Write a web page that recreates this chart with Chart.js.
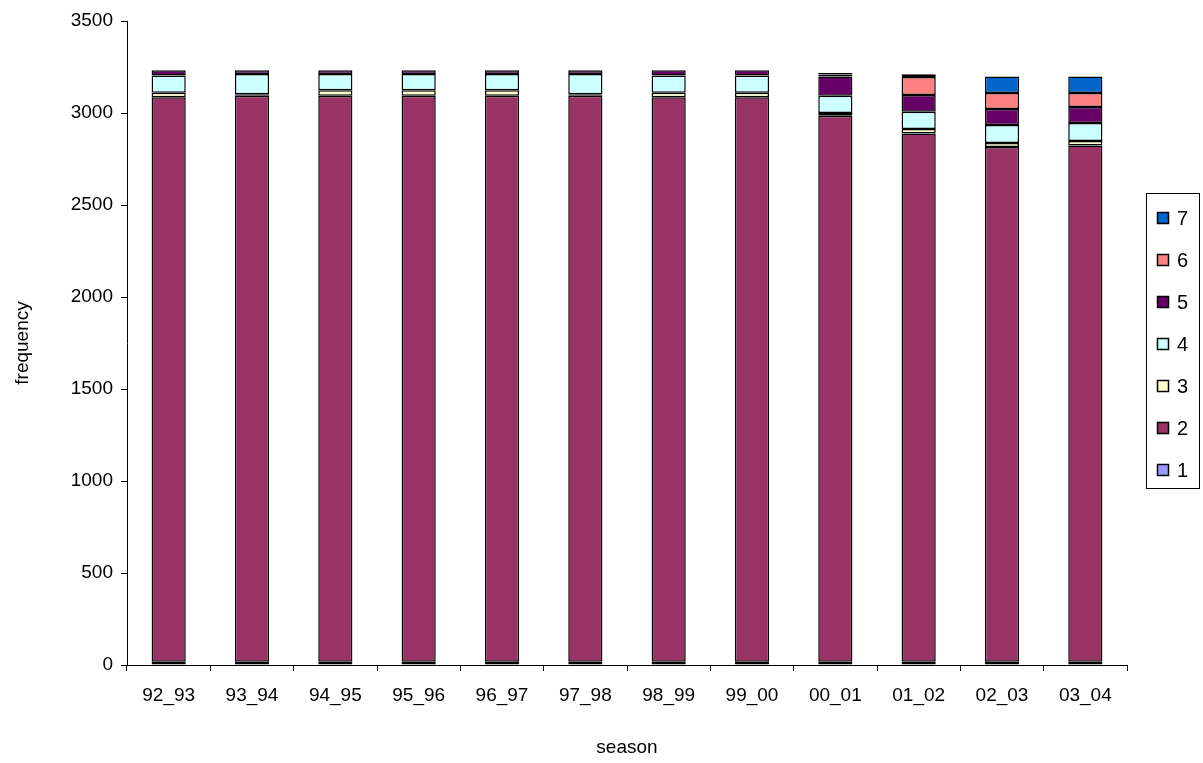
<!DOCTYPE html>
<html>
<head>
<meta charset="utf-8">
<script src="https://cdn.jsdelivr.net/npm/chart.js@4"></script>
<style>
  html, body { margin: 0; padding: 0; background: #fff; }
  canvas { display: block; }
</style>
</head>
<body>
<canvas id="chart" width="1203" height="763"></canvas>
<script>
const seasons = ['92_93', '93_94', '94_95', '95_96', '96_97', '97_98', '98_99', '99_00', '00_01', '01_02', '02_03', '03_04'];

const s1 = [18, 18, 18, 18, 18, 18, 18, 18, 18, 18, 18, 18];
const s2 = [3067, 3076, 3076, 3076, 3076, 3076, 3067, 3067, 2967, 2870, 2797, 2806];
const s3 = [25, 8, 30, 30, 30, 8, 25, 25, 15, 25, 22, 24];
const s4 = [94, 110, 88, 88, 88, 110, 94, 94, 94, 94, 98, 98];
const s5 = [28, 20, 20, 20, 20, 20, 28, 28, 105, 91, 87, 87];
const s6 = [0, 0, 0, 0, 0, 0, 0, 0, 10, 98, 87, 76];
const s7 = [0, 0, 0, 0, 0, 0, 0, 0, 8, 14, 90, 90];

const seriesNames = ['1', '2', '3', '4', '5', '6', '7'];
const seriesData = [s1, s2, s3, s4, s5, s6, s7];
const seriesColors = ['#9999FF', '#993366', '#FFFFCC', '#CCFFFF', '#660066', '#FF8080', '#0066CC'];

const yTicks = [0, 500, 1000, 1500, 2000, 2500, 3000, 3500];

const FONT = 'Arial, "Liberation Sans", sans-serif';

// legend with a frame, like the spreadsheet one
const boxLegend = {
  id: 'boxLegend',
  afterDraw(chart) {
    const ctx = chart.ctx;
    const x0 = 1146, y0 = 193, w = 53, h = 295;
    ctx.save();
    ctx.strokeStyle = '#000';
    ctx.lineWidth = 1;
    ctx.strokeRect(x0 + 0.5, y0 + 0.5, w, h);
    ctx.font = '20px ' + FONT;
    ctx.textBaseline = 'middle';
    const n = seriesNames.length;
    for (let i = 0; i < n; i++) {
      const k = n - 1 - i;
      const cy = 218 + i * 42;
      ctx.fillStyle = seriesColors[k];
      ctx.fillRect(1157, cy - 6, 12, 12);
      ctx.lineWidth = 1.5;
      ctx.strokeRect(1157.5, cy - 5.5, 11, 11);
      ctx.fillStyle = '#000';
      ctx.fillText(seriesNames[k], 1177, cy + 1);
    }
    ctx.restore();
  }
};

new Chart(document.getElementById('chart'), {
  type: 'bar',
  data: {
    labels: seasons,
    datasets: seriesData.map((d, i) => ({
      label: seriesNames[i],
      data: d,
      backgroundColor: seriesColors[i],
      borderColor: '#000',
      borderWidth: 1.5,
      borderSkipped: false,
      barPercentage: 0.41,
      categoryPercentage: 1
    }))
  },
  options: {
    responsive: false,
    animation: false,
    layout: { padding: { top: 21, right: 76, bottom: 0, left: 0 } },
    plugins: {
      legend: { display: false },
      tooltip: { enabled: false }
    },
    scales: {
      x: {
        stacked: true,
        offset: true,
        grid: { display: true, offset: true, drawOnChartArea: false, tickLength: 6, color: '#000' },
        border: { display: true, color: '#000', width: 1 },
        ticks: { color: '#000', font: { size: 19, family: FONT }, padding: 13, maxRotation: 0 },
        title: { display: true, text: 'season', color: '#000', font: { size: 19, family: FONT }, padding: { top: 4, bottom: 4 } },
        afterFit(scale) { scale.height = 98; }
      },
      y: {
        stacked: true,
        min: 0,
        max: 3500,
        grid: { display: true, drawOnChartArea: false, tickLength: 6, color: '#000' },
        border: { display: true, color: '#000', width: 1 },
        afterBuildTicks(scale) { scale.ticks = yTicks.map(v => ({ value: v })); },
        ticks: { color: '#000', font: { size: 19, family: FONT }, padding: 8, callback: v => String(v) },
        title: { display: true, text: 'frequency', color: '#000', font: { size: 19, family: FONT }, padding: { top: 11, bottom: 4 } },
        afterFit(scale) { scale.width = 127; }
      }
    }
  },
  plugins: [boxLegend]
});
</script>
</body>
</html>
